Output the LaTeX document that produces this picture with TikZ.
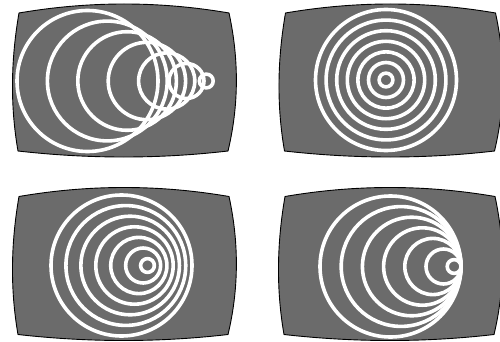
\documentclass[tikz,border=0pt]{standalone}
\definecolor{screengray}{RGB}{107,107,107}
\tikzset{
  screen/.style={fill=screengray, draw=black, line width=0.9pt},
  wave/.style={draw=white, line width=3.6pt},
}
\newcommand{\tvscreen}[2]{%
  \begin{scope}[shift={(#1,#2)}]
  \path[screen] (-105,-69) .. controls (-35,-81) and (35,-81) .. (105,-69)
     .. controls (115,-23) and (115,23) .. (104,69)
     .. controls (35,77) and (-35,77) .. (-106,69)
     .. controls (-114,23) and (-113,-23) .. cycle;
  \end{scope}}
\begin{document}
\begin{tikzpicture}[x=1pt,y=-1pt]
\fill[white] (0,0) rectangle (500,342);
\useasboundingbox (0,0) rectangle (500,342);
% panel 1: supersonic
\tvscreen{124}{82}
\foreach \k in {0,...,6}{
  \pgfmathsetmacro\rr{70.5-10.6*\k}
  \pgfmathsetmacro\cx{87.5+19.8*\k}
  \draw[wave] (\cx,81) circle[radius=\rr pt];
}
% panel 2: stationary
\tvscreen{390.5}{82}
\foreach \k in {0,...,6}{
  \pgfmathsetmacro\rr{70.5-10.6*\k}
  \draw[wave] (386,80) circle[radius=\rr pt];
}
% panel 3: subsonic
\tvscreen{124}{265.5}
\foreach \k in {0,...,6}{
  \pgfmathsetmacro\rr{70.5-10.6*\k}
  \pgfmathsetmacro\cx{121.5+4.33*\k}
  \draw[wave] (\cx,265.5) circle[radius=\rr pt];
}
% panel 4: sonic
\tvscreen{390}{265.5}
\foreach \k in {0,...,6}{
  \pgfmathsetmacro\rr{70.5-10.6*\k}
  \pgfmathsetmacro\cx{461-\rr}
  \draw[wave] (\cx,266.5) circle[radius=\rr pt];
}
\end{tikzpicture}
\end{document}
